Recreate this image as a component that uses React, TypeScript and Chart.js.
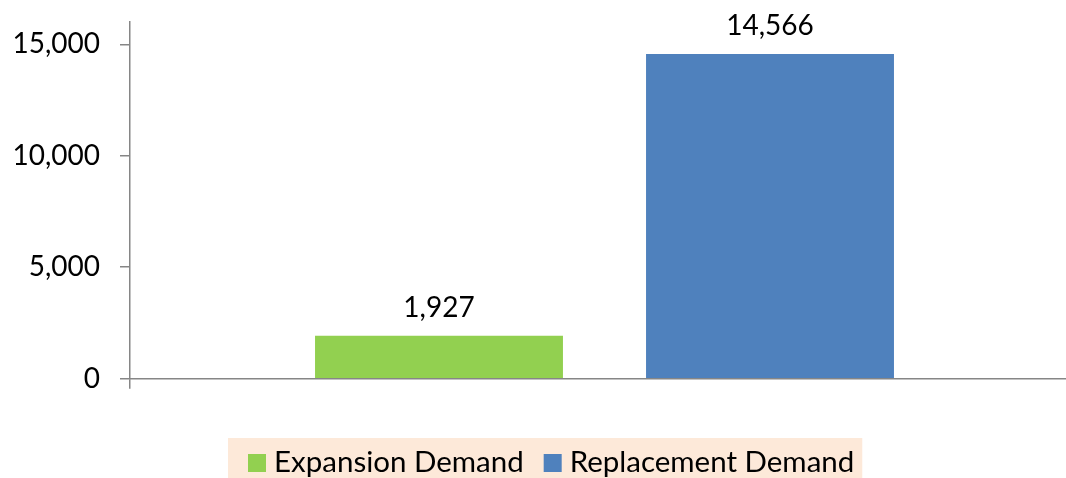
import React, { useEffect, useRef } from "react";
import { Chart, registerables } from "chart.js";

Chart.register(...registerables);

const categories = [""];
const seriesNames = ["Expansion Demand", "Replacement Demand"];
const expansionValues = [1927];
const replacementValues = [14566];
const seriesColors = ["#92D050", "#4F81BD"];
const yTickValues = [0, 5000, 10000, 15000];

const FONT = "Lato, 'Open Sans', sans-serif";
const AXIS = "#868686";

const labelPlugin = {
  id: "valueLabels",
  afterDatasetsDraw(chart: any) {
    const ctx = chart.ctx;
    ctx.save();
    ctx.font = `28px ${FONT}`;
    ctx.fillStyle = "#000";
    ctx.textAlign = "center";
    ctx.textBaseline = "alphabetic";
    chart.data.datasets.forEach((ds: any, i: number) => {
      const meta = chart.getDatasetMeta(i);
      meta.data.forEach((el: any, j: number) => {
        const v = ds.data[j];
        ctx.fillText(Number(v).toLocaleString("en-US"), el.x, el.y - 19);
      });
    });
    ctx.restore();
  },
};

const legendPlugin = {
  id: "customLegend",
  afterDraw(chart: any) {
    const ctx = chart.ctx;
    ctx.save();
    ctx.font = `29.5px ${FONT}`;
    const left = 228;
    const top = 438;
    const box = 18;
    let x = left + 20;
    const items = chart.data.datasets.map((ds: any) => ({
      label: ds.label,
      color: ds.backgroundColor,
      w: ctx.measureText(ds.label).width,
    }));
    let total = 20;
    items.forEach((it: any, i: number) => {
      total += box + 8 + it.w + (i < items.length - 1 ? 20 : 8);
    });
    ctx.fillStyle = "#FDE9D9";
    ctx.fillRect(left, top, total, 50);
    ctx.textBaseline = "alphabetic";
    items.forEach((it: any) => {
      ctx.fillStyle = it.color;
      ctx.fillRect(x, 454, box, box);
      x += box + 8;
      ctx.fillStyle = "#000";
      ctx.fillText(it.label, x, 472);
      x += it.w + 20;
    });
    ctx.restore();
  },
};

export default function App() {
  const ref = useRef<HTMLCanvasElement>(null);
  useEffect(() => {
    if (!ref.current) return;
    const chart = new Chart(ref.current, {
      type: "bar",
      data: {
        labels: categories,
        datasets: [
          {
            label: seriesNames[0],
            data: expansionValues,
            backgroundColor: seriesColors[0],
            categoryPercentage: 0.6976,
            barPercentage: 0.749,
          },
          {
            label: seriesNames[1],
            data: replacementValues,
            backgroundColor: seriesColors[1],
            categoryPercentage: 0.6976,
            barPercentage: 0.749,
          },
        ],
      },
      options: {
        responsive: false,
        animation: false,
        layout: { padding: { top: 22, right: 0, bottom: 0, left: 0 } },
        plugins: {
          legend: { display: false },
          tooltip: { enabled: false },
        },
        scales: {
          x: {
            offset: true,
            border: { display: true, color: AXIS, width: 1.5 },
            grid: {
              offset: true,
              drawOnChartArea: false,
              drawTicks: true,
              tickLength: 10,
              lineWidth: 1.5,
              color: (c: any) => (c.index === 0 ? AXIS : "rgba(0,0,0,0)"),
            },
            ticks: { display: false },
            afterFit: (s: any) => {
              s.height = 99.3;
              s.paddingLeft = 0;
              s.paddingRight = 0;
            },
          },
          y: {
            min: 0,
            max: 16000,
            border: { display: true, color: AXIS, width: 1.5 },
            grid: {
              drawOnChartArea: false,
              drawTicks: true,
              tickLength: 10,
              lineWidth: 1.5,
              color: AXIS,
            },
            ticks: {
              stepSize: 5000,
              padding: 20,
              color: "#000",
              font: { family: FONT, size: 28 },
              callback: (v: any) => Number(v).toLocaleString("en-US"),
            },
            afterBuildTicks: (s: any) => {
              s.ticks = yTickValues.map((v) => ({ value: v }));
            },
            afterFit: (s: any) => {
              s.width = 130;
              s.paddingTop = 0;
              s.paddingBottom = 0;
            },
          },
        },
      },
      plugins: [labelPlugin, legendPlugin],
    });
    return () => chart.destroy();
  }, []);
  return (
    <div
      style={{
        position: "fixed",
        left: 0,
        top: 0,
        width: 1066,
        height: 478,
        overflow: "hidden",
        background: "#fff",
      }}
    >
      <canvas ref={ref} width={1079} height={478} style={{ display: "block" }} />
    </div>
  );
}
